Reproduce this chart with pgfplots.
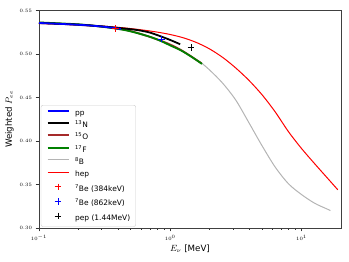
\documentclass[border=0pt]{standalone}
\usepackage{fontspec}
\setmainfont{DejaVu Sans}
\usepackage{pgfplots}
\pgfplotsset{compat=1.18}
\definecolor{mplbrown}{HTML}{A52A2A}
\definecolor{mplgreen}{HTML}{008000}
\definecolor{mplgray}{HTML}{B4B4B4}
\pgfplotsset{
  mylinelegend/.style={legend image code/.code={\draw[##1] (0bp,2.5bp) -- (21bp,2.5bp);}},
  mymarklegend/.style={legend image code/.code={\draw[##1] plot[mark=+, mark size=3.3bp] coordinates {(10.5bp,2.5bp)};}},
}
\begin{document}
\begin{tikzpicture}
\path[use as bounding box] (-39bp,-34bp) rectangle (310bp,228bp);
\begin{axis}[
  at={(0,0)}, anchor=south west,
  scale only axis, width=302bp, height=217.3bp,
  xmode=log, xmin=0.1, xmax=20, ymin=0.30, ymax=0.55,
  ytick={0.30,0.35,0.40,0.45,0.50,0.55},
  yticklabel style={/pgf/number format/.cd, fixed, fixed zerofill, precision=2},
  tick label style={font=\fontsize{5.5}{6}\selectfont},
  tick align=outside, tick pos=left,
  major tick length=3.5bp, minor tick length=2bp,
  every tick/.append style={black!80, line width=0.6bp},
  axis line style={black!75, line width=0.7bp},
  xlabel={$E_\nu$ [MeV]}, ylabel={Weighted $P_{ee}$},
  label style={font=\fontsize{8.7}{10}\selectfont},
  xlabel style={yshift=2bp},
  ylabel style={yshift=-1bp},
  legend cell align=left,
  legend style={at={(0.006,0.006)}, anchor=south west, draw=black!20, rounded corners=2bp,
    fill=white, fill opacity=0.8, text opacity=1, font=\fontsize{7.5}{8}\selectfont,
    nodes={inner sep=0pt, text height=5.6bp, text depth=1.5bp},
    row sep=5.2bp, column sep=5.7bp, inner xsep=5.6bp, inner ysep=4.5bp},
]
\addlegendimage{mylinelegend, blue, line width=1.8bp}
\addlegendentry{pp}
\addlegendimage{mylinelegend, black, line width=1.8bp}
\addlegendentry{\textsuperscript{13}N}
\addlegendimage{mylinelegend, mplbrown, line width=1.8bp}
\addlegendentry{\textsuperscript{15}O}
\addlegendimage{mylinelegend, mplgreen, line width=1.8bp}
\addlegendentry{\textsuperscript{17}F}
\addlegendimage{mylinelegend, mplgray, line width=1bp}
\addlegendentry{\textsuperscript{8}B}
\addlegendimage{mylinelegend, red, line width=1bp}
\addlegendentry{hep}
\addlegendimage{mymarklegend, red, line width=0.8bp}
\addlegendentry{\textsuperscript{7}Be (384keV)}
\addlegendimage{mymarklegend, blue, line width=0.8bp}
\addlegendentry{\textsuperscript{7}Be (862keV)}
\addlegendimage{mymarklegend, black, line width=0.8bp}
\addlegendentry{pep (1.44MeV)}

% 8B
\addplot[forget plot, mplgray, line width=1bp, smooth] coordinates {
(1.690,0.4912) (1.995,0.4818) (2.512,0.4665) (3.162,0.4470) (3.981,0.4210)
(5.012,0.3945) (6.310,0.3700) (7.943,0.3510) (10.00,0.3385) (12.59,0.3285)
(15.85,0.3215) (16.60,0.3200)};
% hep
\addplot[forget plot, red, line width=1bp, smooth] coordinates {
(0.1000,0.5352) (0.1259,0.5348) (0.1585,0.5343) (0.1995,0.5337) (0.2512,0.5330)
(0.3162,0.5321) (0.3981,0.5309) (0.5012,0.5294) (0.6310,0.5276) (0.7943,0.5254)
(1.000,0.5226) (1.259,0.5188) (1.585,0.5134) (1.995,0.5060) (2.512,0.4962)
(3.162,0.4840) (3.981,0.4698) (5.012,0.4532) (6.310,0.4335) (7.943,0.4110)
(10.00,0.3915) (12.59,0.3740) (15.85,0.3570) (18.90,0.3440)};
% 15O
\addplot[forget plot, mplbrown, line width=1.8bp, smooth] coordinates {
(0.1,0.5363) (0.3,0.5318) (0.5,0.5265) (0.864,0.5150) (1.2,0.5050) (1.73,0.4895)};
% 17F
\addplot[forget plot, mplgreen, line width=1.8bp, smooth] coordinates {
(0.1,0.5365) (0.2,0.5343) (0.3,0.5316) (0.4,0.5290) (0.5,0.5262) (0.7,0.5200)
(0.864,0.5146) (1.0,0.5100) (1.2,0.5045) (1.45,0.4970) (1.746,0.4888)};
% 13N
\addplot[forget plot, black, line width=1.8bp, smooth] coordinates {
(0.1,0.5358) (0.2,0.5340) (0.3,0.5320) (0.4,0.5302) (0.5,0.5287) (0.59,0.5272)
(0.7,0.5248) (0.864,0.5200) (1.0,0.5163) (1.19,0.5114)};
% pp
\addplot[forget plot, blue, line width=1.8bp, smooth] coordinates {
(0.1,0.5359) (0.2,0.5338) (0.3,0.5318) (0.42,0.5290)};
% markers
\addplot[forget plot, only marks, mark=+, red, mark size=3.3bp, line width=0.8bp] coordinates {(0.384,0.5297)};
\addplot[forget plot, only marks, mark=+, blue, mark size=3.3bp, line width=0.8bp] coordinates {(0.862,0.5175)};
\addplot[forget plot, only marks, mark=+, black, mark size=3.3bp, line width=0.8bp] coordinates {(1.44,0.5074)};
\end{axis}
\end{tikzpicture}
\end{document}
